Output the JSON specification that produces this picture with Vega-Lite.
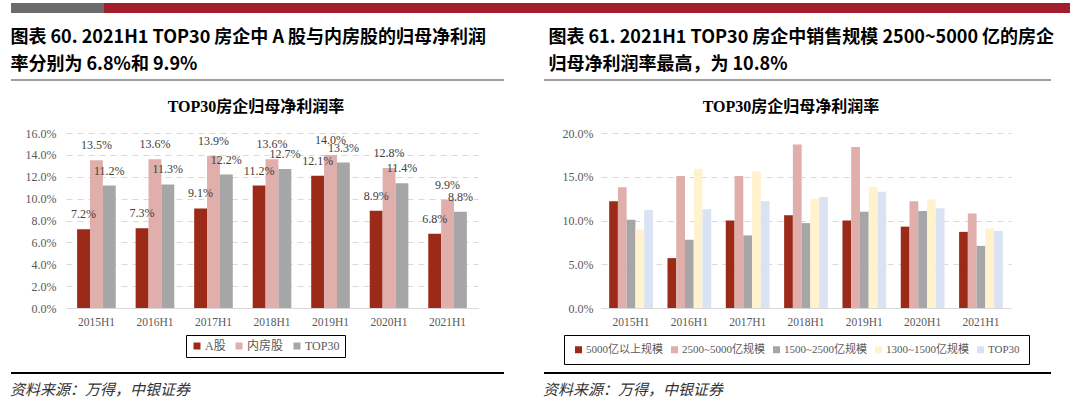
{
  "$schema": "https://vega.github.io/schema/vega-lite/v6.json",
  "background": "white",
  "padding": {"left": 10, "top": 3, "right": 0, "bottom": 0},
  "spacing": 7,
  "resolve": {"scale": {"color": "independent", "xOffset": "independent"}, "legend": {"color": "independent"}},
  "config": {
    "view": {"stroke": null},
    "font": "Liberation Serif, Noto Sans CJK SC",
    "axis": {"labelFont": "Liberation Serif, Noto Sans CJK SC", "labelColor": "#595959", "labelFontSize": 12, "ticks": false, "title": null},
    "legend": {"labelFont": "Liberation Serif, Noto Sans CJK SC", "labelColor": "#595959", "symbolType": "square", "symbolStrokeWidth": 0, "title": null}
  },
  "datasets": {
    "left": [
      {"period": "2015H1", "series": "A股", "value": 0.072},
      {"period": "2016H1", "series": "A股", "value": 0.073},
      {"period": "2017H1", "series": "A股", "value": 0.091},
      {"period": "2018H1", "series": "A股", "value": 0.112},
      {"period": "2019H1", "series": "A股", "value": 0.121},
      {"period": "2020H1", "series": "A股", "value": 0.089},
      {"period": "2021H1", "series": "A股", "value": 0.068},
      {"period": "2015H1", "series": "内房股", "value": 0.135},
      {"period": "2016H1", "series": "内房股", "value": 0.136},
      {"period": "2017H1", "series": "内房股", "value": 0.139},
      {"period": "2018H1", "series": "内房股", "value": 0.136},
      {"period": "2019H1", "series": "内房股", "value": 0.140},
      {"period": "2020H1", "series": "内房股", "value": 0.128},
      {"period": "2021H1", "series": "内房股", "value": 0.099},
      {"period": "2015H1", "series": "TOP30", "value": 0.112},
      {"period": "2016H1", "series": "TOP30", "value": 0.113},
      {"period": "2017H1", "series": "TOP30", "value": 0.122},
      {"period": "2018H1", "series": "TOP30", "value": 0.127},
      {"period": "2019H1", "series": "TOP30", "value": 0.133},
      {"period": "2020H1", "series": "TOP30", "value": 0.114},
      {"period": "2021H1", "series": "TOP30", "value": 0.088}
    ],
    "right": [
      {"period": "2015H1", "series": "5000亿以上规模", "value": 0.122},
      {"period": "2016H1", "series": "5000亿以上规模", "value": 0.057},
      {"period": "2017H1", "series": "5000亿以上规模", "value": 0.100},
      {"period": "2018H1", "series": "5000亿以上规模", "value": 0.106},
      {"period": "2019H1", "series": "5000亿以上规模", "value": 0.100},
      {"period": "2020H1", "series": "5000亿以上规模", "value": 0.093},
      {"period": "2021H1", "series": "5000亿以上规模", "value": 0.087},
      {"period": "2015H1", "series": "2500~5000亿规模", "value": 0.138},
      {"period": "2016H1", "series": "2500~5000亿规模", "value": 0.151},
      {"period": "2017H1", "series": "2500~5000亿规模", "value": 0.151},
      {"period": "2018H1", "series": "2500~5000亿规模", "value": 0.187},
      {"period": "2019H1", "series": "2500~5000亿规模", "value": 0.184},
      {"period": "2020H1", "series": "2500~5000亿规模", "value": 0.122},
      {"period": "2021H1", "series": "2500~5000亿规模", "value": 0.108},
      {"period": "2015H1", "series": "1500~2500亿规模", "value": 0.101},
      {"period": "2016H1", "series": "1500~2500亿规模", "value": 0.078},
      {"period": "2017H1", "series": "1500~2500亿规模", "value": 0.083},
      {"period": "2018H1", "series": "1500~2500亿规模", "value": 0.097},
      {"period": "2019H1", "series": "1500~2500亿规模", "value": 0.110},
      {"period": "2020H1", "series": "1500~2500亿规模", "value": 0.111},
      {"period": "2021H1", "series": "1500~2500亿规模", "value": 0.071},
      {"period": "2015H1", "series": "1300~1500亿规模", "value": 0.090},
      {"period": "2016H1", "series": "1300~1500亿规模", "value": 0.159},
      {"period": "2017H1", "series": "1300~1500亿规模", "value": 0.156},
      {"period": "2018H1", "series": "1300~1500亿规模", "value": 0.125},
      {"period": "2019H1", "series": "1300~1500亿规模", "value": 0.138},
      {"period": "2020H1", "series": "1300~1500亿规模", "value": 0.124},
      {"period": "2021H1", "series": "1300~1500亿规模", "value": 0.091},
      {"period": "2015H1", "series": "TOP30", "value": 0.112},
      {"period": "2016H1", "series": "TOP30", "value": 0.113},
      {"period": "2017H1", "series": "TOP30", "value": 0.122},
      {"period": "2018H1", "series": "TOP30", "value": 0.127},
      {"period": "2019H1", "series": "TOP30", "value": 0.133},
      {"period": "2020H1", "series": "TOP30", "value": 0.114},
      {"period": "2021H1", "series": "TOP30", "value": 0.088}
    ],
    "band": [
      {"segment": "gray", "share": 93},
      {"segment": "red", "share": 966}
    ],
    "one": [{"source": "资料来源：万得，中银证券"}]
  },
  "vconcat": [
    {
      "width": 1059,
      "height": 19,
      "data": {"name": "band"},
      "mark": {"type": "bar"},
      "encoding": {
        "x": {"field": "share", "type": "quantitative", "stack": "zero", "axis": null, "scale": {"domain": [0, 1059], "nice": false}},
        "y": {"datum": "bar", "type": "nominal", "axis": null, "scale": {"paddingInner": 0, "paddingOuter": 0.45, "align": 0}},
        "color": {"field": "segment", "type": "nominal", "legend": null, "scale": {"domain": ["gray", "red"], "range": ["#6B6B6B", "#A21F2E"]}},
        "order": {"field": "segment", "sort": "ascending"}
      }
    },
    {
      "spacing": 38,
      "align": {"row": "each", "column": "none"},
      "hconcat": [
        {
          "width": 493,
          "height": 12,
          "data": {"name": "one"},
          "title": {
            "text": ["图表 60. 2021H1 TOP30 房企中 A 股与内房股的归母净利润", "率分别为 6.8%和 9.9%"],
            "anchor": "start", "font": "Noto Sans CJK SC", "fontSize": 18, "fontWeight": "bold", "color": "#000000", "lineHeight": 27, "offset": 5
          },
          "mark": {"type": "rule", "color": "#404040", "strokeWidth": 1.2},
          "encoding": {"y": {"datum": 1, "type": "quantitative", "axis": null, "scale": {"domain": [0, 1]}}}
        },
        {
          "width": 507,
          "height": 12,
          "data": {"name": "one"},
          "title": {
            "text": ["图表 61. 2021H1 TOP30 房企中销售规模 2500~5000 亿的房企", "归母净利润率最高，为 10.8%"],
            "anchor": "start", "font": "Noto Sans CJK SC", "fontSize": 18, "fontWeight": "bold", "color": "#000000", "lineHeight": 27, "offset": 5, "dx": 5
          },
          "mark": {"type": "rule", "color": "#404040", "strokeWidth": 1.2},
          "encoding": {"y": {"datum": 1, "type": "quantitative", "axis": null, "scale": {"domain": [0, 1]}}}
        }
      ]
    },
    {
      "spacing": 0,
      "align": {"row": "each", "column": "none"},
      "resolve": {"scale": {"color": "independent", "xOffset": "independent"}, "legend": {"color": "independent"}},
      "hconcat": [
        {
          "width": 1,
          "height": 1,
          "data": {"name": "one"},
          "mark": {"type": "rule", "opacity": 0},
          "encoding": {}
        },
        {
          "width": 412,
          "height": 175,
          "data": {"name": "left"},
          "title": {"text": "TOP30房企归母净利润率", "font": "Liberation Serif, Noto Sans CJK SC", "fontSize": 16, "fontWeight": "bold", "color": "#000000", "anchor": "middle", "dx": -16, "offset": 12},
          "encoding": {
            "x": {"field": "period", "type": "nominal", "sort": null, "scale": {"paddingInner": 0.34, "paddingOuter": 0.19},
              "axis": {"labelAngle": 0, "labelFontSize": 11.5, "labelPadding": 8, "domainColor": "#D9D9D9", "domainWidth": 1, "grid": false}},
            "xOffset": {"field": "series", "type": "nominal", "sort": ["A股", "内房股", "TOP30"], "scale": {"paddingInner": 0, "paddingOuter": 0}},
            "y": {"field": "value", "type": "quantitative", "scale": {"domain": [0, 0.16], "nice": false},
              "axis": {"format": ".1%", "values": [0, 0.02, 0.04, 0.06, 0.08, 0.1, 0.12, 0.14, 0.16], "domain": false, "gridColor": "#D9D9D9", "gridDash": [6, 5], "labelPadding": 10, "minExtent": 54}}
          },
          "layer": [
            {
              "mark": {"type": "bar"},
              "encoding": {
                "color": {"field": "series", "type": "nominal", "sort": ["A股", "内房股", "TOP30"],
                  "scale": {"domain": ["A股", "内房股", "TOP30"], "range": ["#9C2A18", "#E0AEAB", "#A6A6A6"]},
                  "legend": {"orient": "none", "legendX": 120, "legendY": 202, "direction": "horizontal", "strokeColor": "#000000", "padding": 5, "labelFontSize": 12, "symbolSize": 49, "columnPadding": 7, "labelOffset": 2, "fillColor": "#FFFFFF"}
                }
              }
            },
            {
              "mark": {"type": "text", "baseline": "bottom", "dy": -8, "font": "Liberation Serif", "fontSize": 12, "color": "#404040"},
              "encoding": {"text": {"field": "value", "type": "quantitative", "format": ".1%"}}
            }
          ]
        },
        {
          "width": 410,
          "height": 175,
          "data": {"name": "right"},
          "title": {"text": "TOP30房企归母净利润率", "font": "Liberation Serif, Noto Sans CJK SC", "fontSize": 16, "fontWeight": "bold", "color": "#000000", "anchor": "middle", "dx": -15, "offset": 12},
          "encoding": {
            "x": {"field": "period", "type": "nominal", "sort": null, "scale": {"paddingInner": 0.25, "paddingOuter": 0.14},
              "axis": {"labelAngle": 0, "labelFontSize": 11.5, "labelPadding": 8, "domainColor": "#D9D9D9", "domainWidth": 1, "grid": false}},
            "xOffset": {"field": "series", "type": "nominal", "sort": ["5000亿以上规模", "2500~5000亿规模", "1500~2500亿规模", "1300~1500亿规模", "TOP30"], "scale": {"paddingInner": 0, "paddingOuter": 0}},
            "y": {"field": "value", "type": "quantitative", "scale": {"domain": [0, 0.2], "nice": false},
              "axis": {"format": ".1%", "values": [0, 0.05, 0.1, 0.15, 0.2], "domain": false, "gridColor": "#D9D9D9", "gridDash": [6, 5], "labelPadding": 8, "minExtent": 123}},
            "color": {"field": "series", "type": "nominal", "sort": ["5000亿以上规模", "2500~5000亿规模", "1500~2500亿规模", "1300~1500亿规模", "TOP30"],
              "scale": {"domain": ["5000亿以上规模", "2500~5000亿规模", "1500~2500亿规模", "1300~1500亿规模", "TOP30"], "range": ["#9C2A18", "#E0AEAB", "#A6A6A6", "#FFF2CC", "#DAE3F3"]},
              "legend": {"orient": "none", "legendX": -37, "legendY": 202, "direction": "horizontal", "strokeColor": "#000000", "padding": 9, "labelFontSize": 11, "symbolSize": 49, "columnPadding": 6, "labelOffset": 2, "fillColor": "#FFFFFF"}
            }
          },
          "mark": {"type": "bar"}
        }
      ]
    },
    {
      "spacing": 38,
      "align": {"row": "each", "column": "none"},
      "hconcat": [
        {
          "width": 493,
          "height": 1,
          "data": {"name": "one"},
          "title": {"text": "资料来源：万得，中银证券", "orient": "bottom", "anchor": "start", "font": "Noto Sans CJK SC", "fontSize": 15, "fontStyle": "italic", "fontWeight": "normal", "color": "#333333", "offset": 9},
          "mark": {"type": "rule", "color": "#000000", "strokeWidth": 2},
          "encoding": {"y": {"datum": 1, "type": "quantitative", "axis": null, "scale": {"domain": [0, 1]}}}
        },
        {
          "width": 507,
          "height": 1,
          "data": {"name": "one"},
          "title": {"text": "资料来源：万得，中银证券", "orient": "bottom", "anchor": "start", "font": "Noto Sans CJK SC", "fontSize": 15, "fontStyle": "italic", "fontWeight": "normal", "color": "#333333", "offset": 9},
          "mark": {"type": "rule", "color": "#000000", "strokeWidth": 2},
          "encoding": {"y": {"datum": 1, "type": "quantitative", "axis": null, "scale": {"domain": [0, 1]}}}
        }
      ]
    }
  ]
}
